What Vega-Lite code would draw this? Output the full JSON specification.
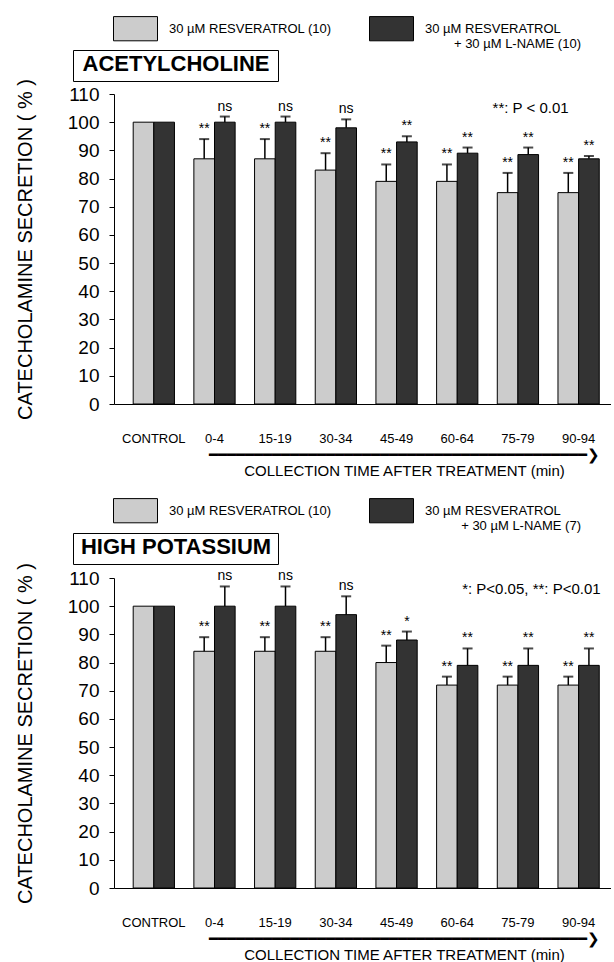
{
  "$schema": "https://vega.github.io/schema/vega-lite/v6.json",
  "padding": {"left": 15, "top": 6, "right": 0, "bottom": 0},
  "background": "white",
  "spacing": 10,
  "config": {
    "font": "Liberation Sans",
    "view": {"stroke": null},
    "axis": {"domainColor": "black", "tickColor": "black", "labelColor": "black", "titleColor": "black", "grid": false},
    "axisY": {"labelOverlap": false}
  },
  "resolve": {"scale": {"fill": "independent", "shape": "independent"}, "legend": {"fill": "independent", "shape": "independent"}},
  "vconcat": [
    {
      "width": 497,
      "height": 310,
      "resolve": {"scale": {"y": "independent"}, "axis": {"y": "independent"}},
      "data": {"values": [
        {"time": "CONTROL", "series": "R", "value": 100, "hi": 100, "sig": ""},
        {"time": "CONTROL", "series": "RL", "value": 100, "hi": 100, "sig": ""},
        {"time": "0-4", "series": "R", "value": 87, "hi": 94, "sig": "**"},
        {"time": "0-4", "series": "RL", "value": 100, "hi": 102, "sig": "ns"},
        {"time": "15-19", "series": "R", "value": 87, "hi": 94, "sig": "**"},
        {"time": "15-19", "series": "RL", "value": 100, "hi": 102, "sig": "ns"},
        {"time": "30-34", "series": "R", "value": 83, "hi": 89, "sig": "**"},
        {"time": "30-34", "series": "RL", "value": 98, "hi": 101, "sig": "ns"},
        {"time": "45-49", "series": "R", "value": 79, "hi": 85, "sig": "**"},
        {"time": "45-49", "series": "RL", "value": 93, "hi": 95, "sig": "**"},
        {"time": "60-64", "series": "R", "value": 79, "hi": 85, "sig": "**"},
        {"time": "60-64", "series": "RL", "value": 89, "hi": 91, "sig": "**"},
        {"time": "75-79", "series": "R", "value": 75, "hi": 82, "sig": "**"},
        {"time": "75-79", "series": "RL", "value": 88.5, "hi": 91, "sig": "**"},
        {"time": "90-94", "series": "R", "value": 75, "hi": 82, "sig": "**"},
        {"time": "90-94", "series": "RL", "value": 87, "hi": 88, "sig": "**"}
      ]},
      "layer": [
        {
          "mark": {"type": "bar", "stroke": "black", "strokeWidth": 1},
          "encoding": {
            "x": {"field": "time", "type": "nominal", "sort": ["CONTROL", "0-4", "15-19", "30-34", "45-49", "60-64", "75-79", "90-94"],
              "scale": {"paddingInner": 0.32, "paddingOuter": 0.255, "align": 0.62},
              "axis": {"title": ["━━━━━━━━━━━━━━━━━━━━━━━━━━━━━━━━━━━━━━━━━━❯", "COLLECTION TIME AFTER TREATMENT (min)"], "titleFontSize": 15, "titleFontWeight": "normal", "titleLineHeight": 16, "titleX": 290, "titleAlign": "center", "titlePadding": 2, "labelAngle": 0, "labelFontSize": 13, "labelPadding": 28, "ticks": false, "domainWidth": 1.2}},
            "xOffset": {"field": "series", "type": "nominal"},
            "y": {"field": "value", "type": "quantitative", "scale": {"domain": [0, 110], "nice": false},
              "axis": {"orient": "left", "title": "CATECHOLAMINE SECRETION ( % )", "titleFontSize": 20, "titleFontWeight": "normal", "titlePadding": 32,
                "values": [0, 10, 20, 30, 40, 50, 60, 70, 80, 90, 100, 110], "labelOverlap": false, "labelFontSize": 19, "labelPadding": 10,
                "ticks": true, "tickSize": 5, "tickWidth": 1}},
            "fill": {"field": "series", "type": "nominal", "scale": {"domain": ["R", "RL"], "range": ["#cccccc", "#333333"]},
              "legend": {"orient": "none", "legendX": -1, "legendY": -88, "direction": "horizontal",
                "title": "+ 30 µM L-NAME (10)", "titleOrient": "bottom", "titleAnchor": "end", "titlePadding": -5, "titleFontSize": 13, "titleFontWeight": "normal", "titleColor": "black",
                "symbolType": "M-1,-0.55H1V0.55H-1Z", "symbolSize": 1936, "symbolStrokeColor": "black", "symbolStrokeWidth": 1,
                "labelFontSize": 13, "labelOffset": 11, "columnPadding": 35, "labelLimit": 500, "labelColor": "black",
                "labelExpr": "datum.value == 'R' ? '30 µM RESVERATROL (10)' : '30 µM RESVERATROL⠀⠀'"}}
          }
        },
        {
          "transform": [{"filter": "datum.hi > datum.value"}],
          "mark": {"type": "rule", "color": "black", "strokeWidth": 1.5},
          "encoding": {
            "x": {"field": "time", "type": "nominal", "sort": ["CONTROL", "0-4", "15-19", "30-34", "45-49", "60-64", "75-79", "90-94"]},
            "xOffset": {"field": "series", "type": "nominal"},
            "y": {"field": "value", "type": "quantitative", "scale": {"domain": [0, 110], "nice": false}, "axis": null},
            "y2": {"field": "hi"}
          }
        },
        {
          "transform": [{"filter": "datum.hi > datum.value"}],
          "mark": {"type": "tick", "color": "black", "size": 10, "thickness": 2},
          "encoding": {
            "x": {"field": "time", "type": "nominal", "sort": ["CONTROL", "0-4", "15-19", "30-34", "45-49", "60-64", "75-79", "90-94"]},
            "xOffset": {"field": "series", "type": "nominal"},
            "y": {"field": "hi", "type": "quantitative", "scale": {"domain": [0, 110], "nice": false}, "axis": null}
          }
        },
        {
          "transform": [{"filter": "datum.sig != ''"}],
          "mark": {"type": "text", "baseline": "bottom", "dy": -3, "fontSize": 14, "color": "black"},
          "encoding": {
            "x": {"field": "time", "type": "nominal", "sort": ["CONTROL", "0-4", "15-19", "30-34", "45-49", "60-64", "75-79", "90-94"]},
            "xOffset": {"field": "series", "type": "nominal"},
            "y": {"field": "hi", "type": "quantitative", "scale": {"domain": [0, 110], "nice": false}, "axis": null},
            "text": {"field": "sig"}
          }
        },
        {
          "data": {"values": [{"note": "**: P < 0.01"}]},
          "mark": {"type": "text", "align": "right", "baseline": "middle", "dx": -10, "fontSize": 15, "color": "black"},
          "encoding": {
            "x": {"datum": "90-94", "type": "nominal"},
            "y": {"datum": 105, "type": "quantitative", "scale": {"domain": [0, 110], "nice": false}, "axis": null},
            "text": {"field": "note"}
          }
        },
        {
          "data": {"values": [{"panel": "ACETYLCHOLINE"}]},
          "mark": {"type": "point", "opacity": 0},
          "encoding": {
            "shape": {"field": "panel", "type": "nominal",
              "legend": {"orient": "none", "legendX": -41, "legendY": -44, "title": "ACETYLCHOLINE", "titleFontSize": 22, "titleFontWeight": "bold", "titleColor": "black", "titlePadding": 0, "titleLimit": 500, "titleAnchor": "middle",
                "labelExpr": "''", "labelFontSize": 1, "labelOffset": 0, "symbolSize": 1, "symbolOpacity": 0, "symbolStrokeWidth": 0, "symbolOffset": 196,
                "strokeColor": "black", "padding": 4}}
          }
        }
      ]
    },
    {
      "width": 497,
      "height": 310,
      "resolve": {"scale": {"y": "independent"}, "axis": {"y": "independent"}},
      "data": {"values": [
        {"time": "CONTROL", "series": "R", "value": 100, "hi": 100, "sig": ""},
        {"time": "CONTROL", "series": "RL", "value": 100, "hi": 100, "sig": ""},
        {"time": "0-4", "series": "R", "value": 84, "hi": 89, "sig": "**"},
        {"time": "0-4", "series": "RL", "value": 100, "hi": 107, "sig": "ns"},
        {"time": "15-19", "series": "R", "value": 84, "hi": 89, "sig": "**"},
        {"time": "15-19", "series": "RL", "value": 100, "hi": 107, "sig": "ns"},
        {"time": "30-34", "series": "R", "value": 84, "hi": 89, "sig": "**"},
        {"time": "30-34", "series": "RL", "value": 97, "hi": 103.5, "sig": "ns"},
        {"time": "45-49", "series": "R", "value": 80, "hi": 86, "sig": "**"},
        {"time": "45-49", "series": "RL", "value": 88, "hi": 91, "sig": "*"},
        {"time": "60-64", "series": "R", "value": 72, "hi": 75, "sig": "**"},
        {"time": "60-64", "series": "RL", "value": 79, "hi": 85, "sig": "**"},
        {"time": "75-79", "series": "R", "value": 72, "hi": 75, "sig": "**"},
        {"time": "75-79", "series": "RL", "value": 79, "hi": 85, "sig": "**"},
        {"time": "90-94", "series": "R", "value": 72, "hi": 75, "sig": "**"},
        {"time": "90-94", "series": "RL", "value": 79, "hi": 85, "sig": "**"}
      ]},
      "layer": [
        {
          "mark": {"type": "bar", "stroke": "black", "strokeWidth": 1},
          "encoding": {
            "x": {"field": "time", "type": "nominal", "sort": ["CONTROL", "0-4", "15-19", "30-34", "45-49", "60-64", "75-79", "90-94"],
              "scale": {"paddingInner": 0.32, "paddingOuter": 0.255, "align": 0.62},
              "axis": {"title": ["━━━━━━━━━━━━━━━━━━━━━━━━━━━━━━━━━━━━━━━━━━❯", "COLLECTION TIME AFTER TREATMENT (min)"], "titleFontSize": 15, "titleFontWeight": "normal", "titleLineHeight": 16, "titleX": 290, "titleAlign": "center", "titlePadding": 2, "labelAngle": 0, "labelFontSize": 13, "labelPadding": 28, "ticks": false, "domainWidth": 1.2}},
            "xOffset": {"field": "series", "type": "nominal"},
            "y": {"field": "value", "type": "quantitative", "scale": {"domain": [0, 110], "nice": false},
              "axis": {"orient": "left", "title": "CATECHOLAMINE SECRETION ( % )", "titleFontSize": 20, "titleFontWeight": "normal", "titlePadding": 32,
                "values": [0, 10, 20, 30, 40, 50, 60, 70, 80, 90, 100, 110], "labelOverlap": false, "labelFontSize": 19, "labelPadding": 10,
                "ticks": true, "tickSize": 5, "tickWidth": 1}},
            "fill": {"field": "series", "type": "nominal", "scale": {"domain": ["R", "RL"], "range": ["#cccccc", "#333333"]},
              "legend": {"orient": "none", "legendX": -1, "legendY": -90, "direction": "horizontal",
                "title": "+ 30 µM L-NAME (7)", "titleOrient": "bottom", "titleAnchor": "end", "titlePadding": -5, "titleFontSize": 13, "titleFontWeight": "normal", "titleColor": "black",
                "symbolType": "M-1,-0.55H1V0.55H-1Z", "symbolSize": 1936, "symbolStrokeColor": "black", "symbolStrokeWidth": 1,
                "labelFontSize": 13, "labelOffset": 11, "columnPadding": 35, "labelLimit": 500, "labelColor": "black",
                "labelExpr": "datum.value == 'R' ? '30 µM RESVERATROL (10)' : '30 µM RESVERATROL⠀⠀'"}}
          }
        },
        {
          "transform": [{"filter": "datum.hi > datum.value"}],
          "mark": {"type": "rule", "color": "black", "strokeWidth": 1.5},
          "encoding": {
            "x": {"field": "time", "type": "nominal", "sort": ["CONTROL", "0-4", "15-19", "30-34", "45-49", "60-64", "75-79", "90-94"]},
            "xOffset": {"field": "series", "type": "nominal"},
            "y": {"field": "value", "type": "quantitative", "scale": {"domain": [0, 110], "nice": false}, "axis": null},
            "y2": {"field": "hi"}
          }
        },
        {
          "transform": [{"filter": "datum.hi > datum.value"}],
          "mark": {"type": "tick", "color": "black", "size": 10, "thickness": 2},
          "encoding": {
            "x": {"field": "time", "type": "nominal", "sort": ["CONTROL", "0-4", "15-19", "30-34", "45-49", "60-64", "75-79", "90-94"]},
            "xOffset": {"field": "series", "type": "nominal"},
            "y": {"field": "hi", "type": "quantitative", "scale": {"domain": [0, 110], "nice": false}, "axis": null}
          }
        },
        {
          "transform": [{"filter": "datum.sig != ''"}],
          "mark": {"type": "text", "baseline": "bottom", "dy": -3, "fontSize": 14, "color": "black"},
          "encoding": {
            "x": {"field": "time", "type": "nominal", "sort": ["CONTROL", "0-4", "15-19", "30-34", "45-49", "60-64", "75-79", "90-94"]},
            "xOffset": {"field": "series", "type": "nominal"},
            "y": {"field": "hi", "type": "quantitative", "scale": {"domain": [0, 110], "nice": false}, "axis": null},
            "text": {"field": "sig"}
          }
        },
        {
          "data": {"values": [{"note": "*: P<0.05, **: P<0.01"}]},
          "mark": {"type": "text", "align": "right", "baseline": "middle", "dx": 22, "fontSize": 15, "color": "black"},
          "encoding": {
            "x": {"datum": "90-94", "type": "nominal"},
            "y": {"datum": 106, "type": "quantitative", "scale": {"domain": [0, 110], "nice": false}, "axis": null},
            "text": {"field": "note"}
          }
        },
        {
          "data": {"values": [{"panel": "HIGH POTASSIUM"}]},
          "mark": {"type": "point", "opacity": 0},
          "encoding": {
            "shape": {"field": "panel", "type": "nominal",
              "legend": {"orient": "none", "legendX": -41, "legendY": -45, "title": "HIGH POTASSIUM", "titleFontSize": 22, "titleFontWeight": "bold", "titleColor": "black", "titlePadding": 0, "titleLimit": 500, "titleAnchor": "middle",
                "labelExpr": "''", "labelFontSize": 1, "labelOffset": 0, "symbolSize": 1, "symbolOpacity": 0, "symbolStrokeWidth": 0, "symbolOffset": 196,
                "strokeColor": "black", "padding": 4}}
          }
        }
      ]
    }
  ]
}
